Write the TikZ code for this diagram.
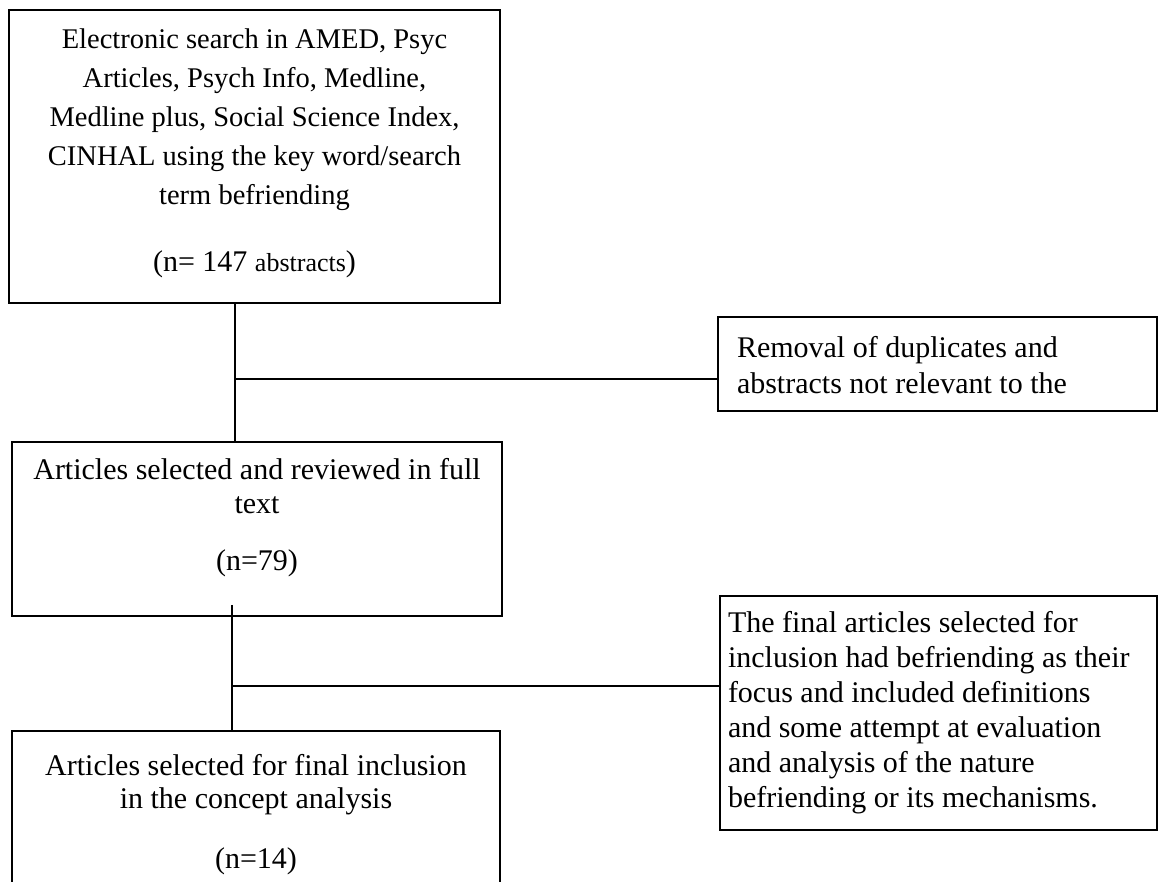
\documentclass[tikz,border=0pt]{standalone}
\usepackage{fontspec}
\setmainfont{Liberation Serif}
\begin{document}
\begin{tikzpicture}[x=1pt,y=1pt,
  boxa/.style={draw=black, line width=1.8pt, inner sep=0pt, outer sep=0pt},
  boxb/.style={draw=black, line width=1.1pt, inner sep=0pt, outer sep=0pt},
  link/.style={draw=black, line width=1.6pt},
  txt/.style={inner sep=0pt, outer sep=0pt, text=black}]
\useasboundingbox (0,0) rectangle (1159,882);
\clip (0,0) rectangle (1159,882);
% boxes
\node[boxa, minimum width=491pt, minimum height=293pt] (b1) at (254.5,725.5) {};
\node[boxb, minimum width=439pt, minimum height=94pt] (b2) at (937.5,518) {};
\node[boxa, minimum width=490pt, minimum height=174pt] (b3) at (257,353) {};
\node[boxa, minimum width=437pt, minimum height=234pt] (b4) at (938.5,169) {};
\node[boxa, minimum width=488pt, minimum height=169pt] (b5) at (256,66.5) {};
% texts
\node[txt, anchor=north, align=center, font=\fontsize{28.5}{39}\selectfont] (t1) at (254.5,853.7)
  {Electronic search in AMED, Psyc\\Articles, Psych Info, Medline,\\Medline plus, Social Science Index,\\CINHAL using the key word/search\\term befriending\\[28pt]{\fontsize{30}{39}\selectfont (n= 147 {\fontsize{26}{39}\selectfont abstracts})}};
\node[txt, anchor=north west, align=left, font=\fontsize{30}{36}\selectfont] (t2) at (737,545.7)
  {Removal of duplicates and\\abstracts not relevant to the};
\node[txt, anchor=north, align=center, font=\fontsize{30}{34}\selectfont] (t3) at (257,423.7)
  {Articles selected and reviewed in full\\text\\[23pt](n=79)};
\node[txt, anchor=north west, align=left, font=\fontsize{30}{35}\selectfont] (t4) at (728,270.7)
  {The final articles selected for\\inclusion had befriending as their\\focus and included definitions\\and some attempt at evaluation\\and analysis of the nature\\befriending or its mechanisms.};
\node[txt, anchor=north, align=center, font=\fontsize{30}{33}\selectfont] (t5) at (256,127.7)
  {Articles selected for final inclusion\\in the concept analysis\\[27pt](n=14)};
% connectors
\coordinate (j1) at (235,503);
\draw[link] (j1 |- b1.south) -- (j1 |- b3.north);
\draw[link] (j1) -- (j1 -| b2.west);
\coordinate (s2) at (232,277);
\coordinate (j2) at (232,196);
\draw[link] (s2) -- (s2 |- b5.north);
\draw[link] (j2) -- (j2 -| b4.west);
\end{tikzpicture}
\end{document}
